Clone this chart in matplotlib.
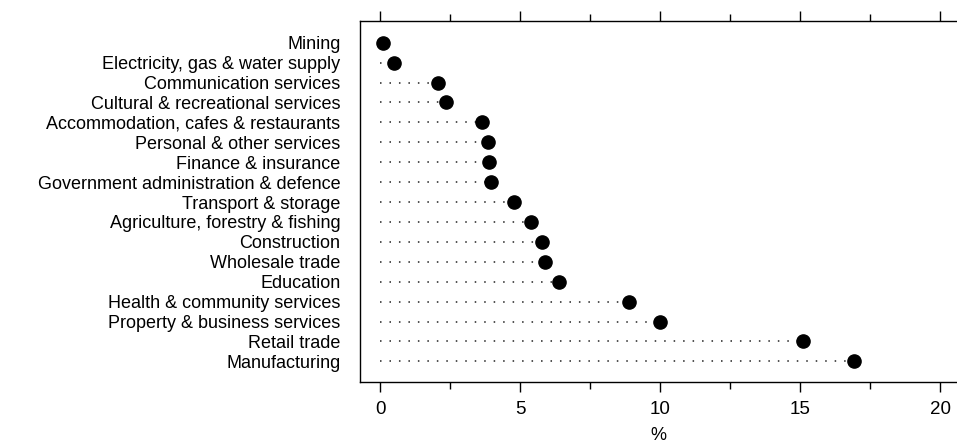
import matplotlib
matplotlib.use("Agg")
import matplotlib.pyplot as plt
from matplotlib.ticker import MultipleLocator

plt.rcParams['font.family'] = ['Liberation Sans', 'DejaVu Sans']

industries = [
    "Mining",
    "Electricity, gas & water supply",
    "Communication services",
    "Cultural & recreational services",
    "Accommodation, cafes & restaurants",
    "Personal & other services",
    "Finance & insurance",
    "Government administration & defence",
    "Transport & storage",
    "Agriculture, forestry & fishing",
    "Construction",
    "Wholesale trade",
    "Education",
    "Health & community services",
    "Property & business services",
    "Retail trade",
    "Manufacturing",
]
share = [0.1, 0.5, 2.05, 2.35, 3.65, 3.85, 3.87, 3.96, 4.78, 5.38,
         5.79, 5.88, 6.37, 8.9, 10.0, 15.1, 16.93]

fig = plt.figure(figsize=(9.57, 4.42), dpi=100)
ax = fig.add_axes([0.376, 0.136, 0.624, 0.817])

ypos = list(range(len(industries)))

# dotted leader lines from 0 to each value
for y, v in zip(ypos, share):
    ax.plot([0, v], [y, y], color='#222222', lw=1.1,
            linestyle=(0, (1, 5.2)), zorder=1)
ax.plot(share, ypos, 'o', color='black', markersize=9.5, zorder=2)

ax.set_xlim(-0.73, 20.6)
ax.set_ylim(len(industries) - 1 + 1.03, -1.1)

ax.set_yticks(ypos)
ax.set_yticklabels(industries, fontsize=13)
ax.tick_params(axis='y', length=0, pad=14)

ax.xaxis.set_major_locator(MultipleLocator(5))
ax.xaxis.set_minor_locator(MultipleLocator(2.5))
ax.tick_params(axis='x', which='both', direction='out', top=True,
               labeltop=False, labelsize=13.5, width=1)
ax.tick_params(axis='x', which='major', length=7, pad=7)
ax.tick_params(axis='x', which='minor', length=5)

ax.set_xlabel('%', fontsize=13, labelpad=6)

ax.spines['right'].set_visible(False)
for s in ['left', 'top', 'bottom']:
    ax.spines[s].set_linewidth(1.0)

fig.savefig('out.png', dpi=100)
